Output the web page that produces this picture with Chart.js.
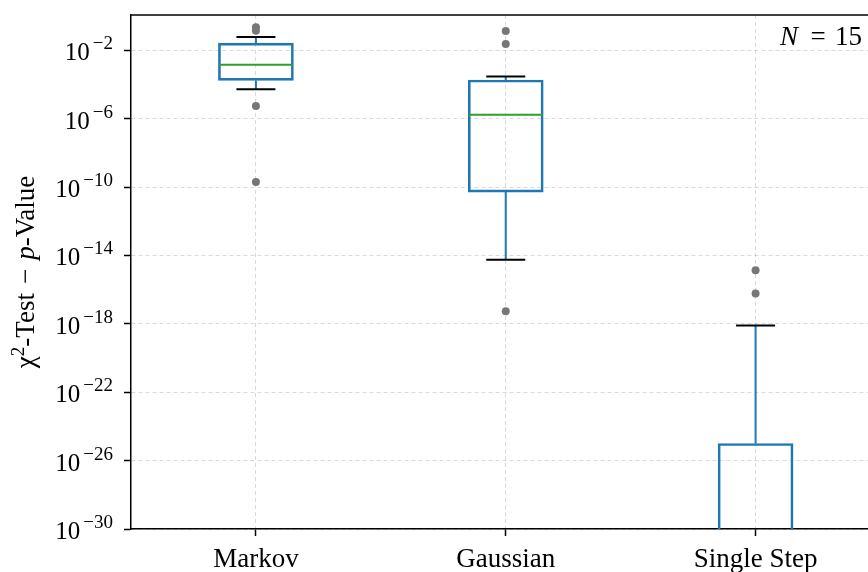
<!DOCTYPE html>
<html>
<head>
<meta charset="utf-8">
<script src="https://cdn.jsdelivr.net/npm/chart.js@4.4.1/dist/chart.umd.min.js"></script>
<style>
html, body { margin: 0; padding: 0; background: #fff; }
</style>
</head>
<body>
<canvas id="myCanvas" width="868" height="572"></canvas>
<script>
var categories = ['Markov', 'Gaussian', 'Single Step'];
var positions = [1, 2, 3];
var q1 = [1.74e-4, 5.1e-11, 1e-34];
var q3 = [2.6e-2, 1.82e-4, 1.0e-25];
var medians = [1.45e-3, 1.7e-6, null];
var whiskerLow = [5.2e-5, 5.6e-15, null];
var whiskerHigh = [6.0e-2, 2.9e-4, 8.1e-19];
var outlierPos = [1, 1, 1, 1, 2, 2, 2, 3, 3];
var outlierVal = [0.224, 0.141, 5.5e-6, 1.95e-10, 0.135, 2.3e-2, 5.4e-18, 1.35e-15, 6.0e-17];
var yTicks = [1e-2, 1e-6, 1e-10, 1e-14, 1e-18, 1e-22, 1e-26, 1e-30];
var yTickBase = '10';
var yTickExps = ['−2', '−6', '−10', '−14', '−18', '−22', '−26', '−30'];

var font = '"Liberation Serif", "DejaVu Serif", serif';

var boxes = [], meds = [], caps = [], whiskers = [], fliers = [];
for (var i = 0; i < positions.length; i++) {
    var p = positions[i];
    boxes.push({x: p, y: [q1[i], q3[i]]});
    if (medians[i] !== null) meds.push({x: p, y: medians[i]});
    whiskers.push({x: p, y: q3[i]}, {x: p, y: whiskerHigh[i]}, {x: p, y: null});
    caps.push({x: p, y: whiskerHigh[i]});
    if (whiskerLow[i] !== null) {
        whiskers.push({x: p, y: q1[i]}, {x: p, y: whiskerLow[i]}, {x: p, y: null});
        caps.push({x: p, y: whiskerLow[i]});
    }
}
for (var j = 0; j < outlierVal.length; j++) {
    fliers.push({x: outlierPos[j], y: outlierVal[j]});
}

function noPad(s) {
    s.paddingLeft = 0;
    s.paddingRight = 0;
    s.paddingTop = 0;
    s.paddingBottom = 0;
}

// draws pieces of text in a row, each with its own font and raise
function drawPieces(ctx, pieces, x, y) {
    var total = 0;
    pieces.forEach(function (pc) {
        ctx.font = pc.f;
        pc.w = ctx.measureText(pc.t).width;
        total += pc.w + (pc.gap || 0);
    });
    var cx = x - total / 2;
    pieces.forEach(function (pc) {
        ctx.font = pc.f;
        ctx.fillText(pc.t, cx, y - (pc.up || 0));
        cx += pc.w + (pc.gap || 0);
    });
}

var frame = {
    id: 'frame',
    afterDraw: function (chart) {
        var a = chart.chartArea, ctx = chart.ctx, ys = chart.scales.y;
        ctx.save();
        ctx.strokeStyle = '#000';
        ctx.lineWidth = 1.5;
        ctx.beginPath();
        ctx.moveTo(a.left, a.top);
        ctx.lineTo(a.right, a.top);
        ctx.stroke();
        ctx.fillStyle = '#000';
        ctx.textBaseline = 'alphabetic';

        // N = 15 label
        ctx.textAlign = 'right';
        ctx.font = '27px ' + font;
        ctx.fillText('15', a.right - 6, a.top + 30);
        ctx.textAlign = 'center';
        ctx.fillText('=', a.right - 50, a.top + 30);
        ctx.textAlign = 'right';
        ctx.font = 'italic 27px ' + font;
        ctx.fillText('N', a.right - 70, a.top + 30);

        // y tick labels 10^e
        for (var k = 0; k < yTicks.length; k++) {
            var py = ys.getPixelForValue(yTicks[k]);
            var end = a.left - 18;
            ctx.textAlign = 'right';
            ctx.font = '19px ' + font;
            var ew = ctx.measureText(yTickExps[k]).width;
            ctx.fillText(yTickExps[k], end, py - 1);
            ctx.font = '25px ' + font;
            ctx.fillText(yTickBase, end - ew - 3, py + 10);
        }

        // y axis title
        ctx.translate(34, (a.top + a.bottom) / 2);
        ctx.rotate(-Math.PI / 2);
        ctx.textAlign = 'left';
        drawPieces(ctx, [
            {t: 'χ', f: '27px ' + font},
            {t: '2', f: '19px ' + font, up: 10},
            {t: '-Test', f: '27px ' + font, gap: 9},
            {t: '−', f: '27px ' + font, gap: 9},
            {t: 'p', f: 'italic 27px ' + font},
            {t: '-Value', f: '27px ' + font}
        ], 0, 0);
        ctx.restore();
    }
};

var ctx = document.getElementById('myCanvas');
var chart = new Chart(ctx, {
    type: 'bar',
    data: {
        datasets: [
            {
                type: 'scatter',
                data: fliers,
                pointRadius: 4,
                pointBackgroundColor: '#777777',
                pointBorderWidth: 0
            },
            {
                type: 'scatter',
                data: meds,
                pointStyle: 'line',
                pointRadius: 37,
                pointBorderColor: '#2ca02c',
                pointBorderWidth: 2
            },
            {
                type: 'scatter',
                data: caps,
                pointStyle: 'line',
                pointRadius: 19.5,
                pointBorderColor: '#000000',
                pointBorderWidth: 2
            },
            {
                type: 'line',
                data: whiskers,
                borderColor: '#1f77b4',
                borderWidth: 2,
                pointRadius: 0,
                spanGaps: false
            },
            {
                type: 'bar',
                data: boxes,
                barThickness: 75,
                borderColor: '#1f77b4',
                borderWidth: 2,
                borderSkipped: false,
                backgroundColor: 'rgba(0,0,0,0)'
            }
        ]
    },
    options: {
        responsive: false,
        animation: false,
        devicePixelRatio: 1,
        layout: { autoPadding: false, padding: { top: 15, right: 0, left: 0, bottom: 0 } },
        plugins: { legend: { display: false }, tooltip: { enabled: false } },
        scales: {
            x: {
                type: 'linear',
                min: 0.5,
                max: 3.45,
                offset: false,
                afterFit: function (s) { s.height = 43; noPad(s); },
                afterBuildTicks: function (s) {
                    s.ticks = positions.map(function (v) { return {value: v}; });
                },
                ticks: {
                    autoSkip: false,
                    maxRotation: 0,
                    padding: 8,
                    color: '#000',
                    font: { family: font, size: 27 },
                    callback: function (v) { return categories[positions.indexOf(v)]; }
                },
                grid: {
                    offset: false,
                    color: 'rgba(0,0,0,0.15)',
                    lineWidth: 1,
                    tickColor: '#000',
                    tickLength: 7,
                    tickWidth: 1.5
                },
                border: { color: '#000', width: 1.5, dash: [4, 3] }
            },
            y: {
                type: 'logarithmic',
                min: 1e-30,
                max: 1.16,
                afterFit: function (s) { s.width = 131; noPad(s); },
                afterBuildTicks: function (s) {
                    s.ticks = yTicks.map(function (v) { return {value: v}; });
                },
                ticks: { display: false },
                grid: {
                    color: 'rgba(0,0,0,0.15)',
                    lineWidth: 1,
                    tickColor: '#000',
                    tickLength: 7,
                    tickWidth: 1.5
                },
                border: { color: '#000', width: 1.5, dash: [4, 3] }
            }
        }
    },
    plugins: [frame]
});
</script>
</body>
</html>
